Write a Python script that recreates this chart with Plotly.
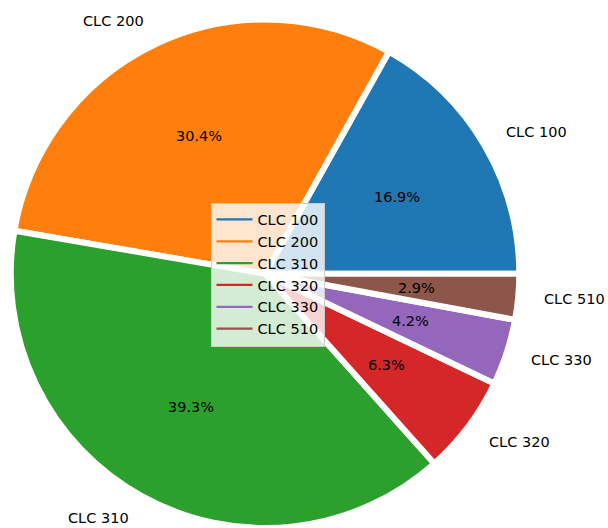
import math
import plotly.graph_objects as go

labels = ["CLC 100", "CLC 200", "CLC 310", "CLC 320", "CLC 330", "CLC 510"]
values = [16.9, 30.4, 39.3, 6.3, 4.2, 2.9]
colors = ["#1f77b4", "#ff7f0e", "#2ca02c", "#d62728", "#9467bd", "#8c564b"]

W, H = 608, 528
FONT = "DejaVu Sans"
FS = 14.5
cx_px, half = 265.0, 254.25
dom_x = [(cx_px - half) / W, (cx_px + half) / W]
dom_y = [0.0, 2 * half / H]

total = sum(values)
# plotly: with counterclockwise direction the first slice ends at `rotation`
# (clockwise from 12 o'clock); we want it to start at 3 o'clock.
rotation = 90 - 360 * values[0] / total

fig = go.Figure()
fig.add_trace(go.Pie(
    labels=labels, values=values, sort=False, direction="counterclockwise",
    rotation=rotation,
    marker=dict(colors=colors, line=dict(width=6, color="white")),
    textinfo="none", hoverinfo="label+percent", showlegend=False,
    domain=dict(x=dom_x, y=dom_y),
))

# pie geometry as plotly lays it out (pixels)
cx = (dom_x[0] + dom_x[1]) / 2 * W
cy = (1 - (dom_y[0] + dom_y[1]) / 2) * H
r = min((dom_x[1] - dom_x[0]) * W, (dom_y[1] - dom_y[0]) * H) / 2

cum = 0.0
annotations = []
for lab, v in zip(labels, values):
    frac = v / total
    mid = 2 * math.pi * (cum + frac / 2)
    cum += frac
    c, s = math.cos(mid), math.sin(mid)
    # percentage
    d = 0.6 * r
    annotations.append(dict(
        x=(cx + d * c) / W, y=1 - (cy - d * s) / H, xref="paper", yref="paper",
        text=f"{100 * frac:.1f}%", showarrow=False, xanchor="center", yanchor="middle",
        borderpad=0, borderwidth=0,
        font=dict(family=FONT, size=FS, color="black")))
    # label
    d = 1.1 * r
    annotations.append(dict(
        x=(cx + d * c) / W, y=1 - (cy - d * s) / H, xref="paper", yref="paper",
        text=lab, showarrow=False, xanchor="left" if c > 0 else "right", yanchor="middle",
        borderpad=0, borderwidth=0,
        font=dict(family=FONT, size=FS, color="black")))

for lab, col in zip(labels, colors):
    fig.add_trace(go.Scatter(x=[None], y=[None], mode="lines", name=lab,
                             line=dict(color=col, width=2.2)))

fig.update_layout(
    width=W, height=H, margin=dict(l=0, r=0, t=0, b=0),
    paper_bgcolor="white", plot_bgcolor="rgba(0,0,0,0)",
    font=dict(family=FONT, size=FS, color="black"),
    xaxis=dict(visible=False), yaxis=dict(visible=False),
    annotations=annotations,
    legend=dict(x=267.5 / W, y=1 - 274.5 / H, xanchor="center", yanchor="middle",
                itemwidth=36,
                bgcolor="rgba(255,255,255,0.8)", bordercolor="#cccccc", borderwidth=1,
                font=dict(family=FONT, size=FS, color="black")),
)
fig.write_html("out.html", config={"displayModeBar": False},
               post_script="document.body.style.margin='0';document.body.style.overflow='hidden';")
